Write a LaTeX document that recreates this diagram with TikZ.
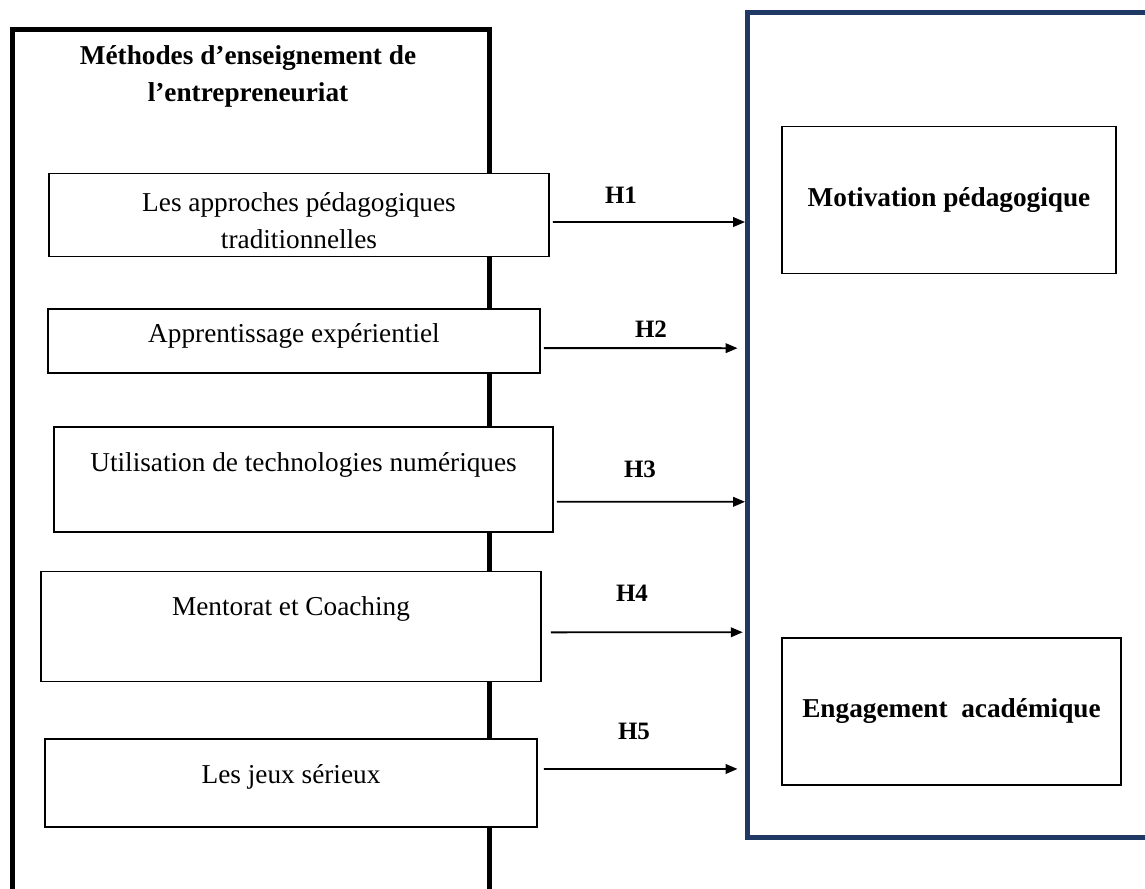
\documentclass[tikz,border=0pt]{standalone}
\usepackage{fontspec}
\setmainfont{Liberation Serif}
\usetikzlibrary{arrows.meta,positioning}
\definecolor{bleunuit}{HTML}{1F3864}

\begin{document}
\begin{tikzpicture}[
    x=0.44pt, y=-0.44pt,
    cadre/.style={draw, rectangle, line width=2.2pt, anchor=north west, inner sep=0pt},
    methode/.style={draw, fill=white, rectangle, line width=0.7pt, align=center,
      font=\fontsize{12}{16.3}\selectfont},
    resultat/.style={draw, rectangle, line width=0.7pt, minimum width=147pt, minimum height=64.7pt,
      font=\bfseries\fontsize{12}{14}\selectfont},
    hypo/.style={-{Triangle[length=5.2pt,width=4.2pt]}, line width=0.8pt},
    etiq/.style={font=\bfseries\fontsize{11}{13}\selectfont}
]
  \useasboundingbox (0,0) rectangle (1145,889);

  % Cadres
  \node[cadre, minimum width=209.9pt, minimum height=390pt] (methodes) at (10,27) {};
  \node[cadre, draw=bleunuit, minimum width=200pt, minimum height=363pt] (effets) at (745,10) {};
  \node[font=\bfseries\fontsize{12}{16.3}\selectfont, align=center] (titre) at (248,76)
    {Méthodes d’enseignement de\\l’entrepreneuriat};

  % Boîtes
  \node[methode, minimum width=220pt, minimum height=35.2pt] (m1) at (299,215)
    {\rule{0pt}{13.5pt}Les approches pédagogiques\\traditionnelles};
  \node[methode, below=22.4pt of m1, xshift=-2.2pt, minimum width=216.5pt, minimum height=28.2pt, text depth=7pt] (m2)
    {Apprentissage expérientiel};
  \node[methode, below=22.9pt of m2, xshift=4.2pt, minimum width=219.6pt, minimum height=46.2pt, text depth=15pt] (m3)
    {Utilisation de technologies numériques};
  \node[methode, below=16.7pt of m3, xshift=-5.5pt, minimum width=220pt, minimum height=48.4pt, text depth=18pt] (m4)
    {Mentorat et Coaching};
  \node[methode, below=24.7pt of m4, minimum width=216.5pt, minimum height=38.7pt, text depth=8pt] (m5)
    {Les jeux sérieux};

  \node[resultat] (motivation) at (949,200) {Motivation pédagogique};
  \node[resultat, minimum width=149.2pt] (engagement) at (951.5,711.5) {Engagement\ \ académique};

  % Flèches
  \draw[hypo] ([shift={(3,7)}]m1.east) -- ([yshift=-3.1pt]m1.east -| effets.west);
  \draw[hypo, shorten >=3.3pt] ([shift={(3,7)}]m2.east) -- ([yshift=-3.1pt]m2.east -| effets.west);
  \draw[hypo] ([shift={(3,22.5)}]m3.east) -- ([yshift=-9.9pt]m3.east -| effets.west);
  \draw[hypo, shorten >=1pt] ([shift={(9,6)}]m4.east) -- ([yshift=-2.6pt]m4.east -| effets.west);
  \draw[hypo, shorten >=3.3pt] ([shift={(6,-14)}]m5.east) -- ([yshift=6.2pt]m5.east -| effets.west);

  \node[etiq] (h1) at (621,195) {H1};
  \node[etiq] (h2) at (651,329) {H2};
  \node[etiq] (h3) at (640,469) {H3};
  \node[etiq] (h4) at (632,593) {H4};
  \node[etiq] (h5) at (634,731) {H5};
\end{tikzpicture}
\end{document}
